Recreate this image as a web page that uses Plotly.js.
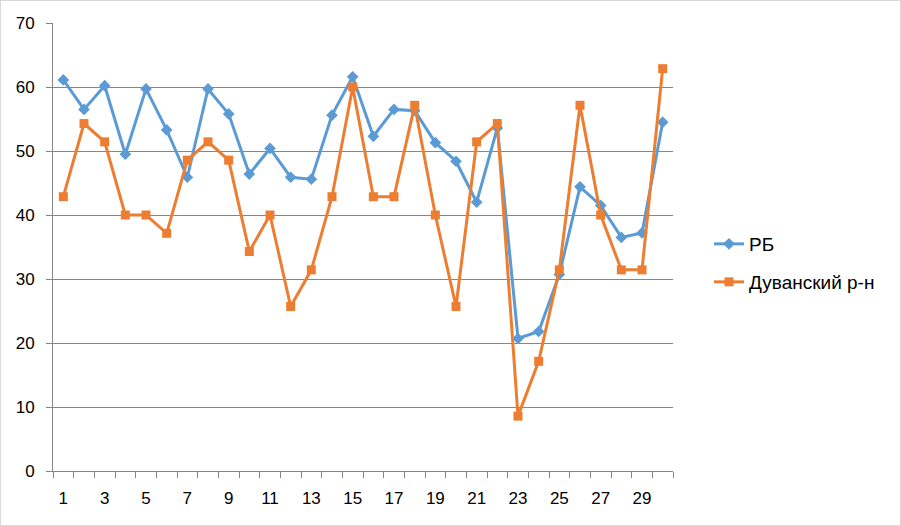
<!DOCTYPE html>
<html><head><meta charset="utf-8">
<script src="https://cdn.plot.ly/plotly-3.0.1.min.js"></script>
<style>html,body{margin:0;padding:0;background:#fff}#chart{width:901px;height:526px;box-sizing:border-box;border:1px solid #d9d9d9}</style>
</head><body><div id="chart"></div>
<script>
const categories = [1,2,3,4,5,6,7,8,9,10,11,12,13,14,15,16,17,18,19,20,21,22,23,24,25,26,27,28,29,30];
const seriesRB = [61.1,56.5,60.2,49.5,59.7,53.3,45.9,59.7,55.8,46.4,50.4,45.9,45.6,55.6,61.6,52.3,56.5,56.3,51.3,48.4,42.0,53.6,20.7,21.8,30.7,44.4,41.5,36.5,37.2,54.5];
const seriesDuvan = [42.86,54.29,51.43,40.0,40.0,37.14,48.57,51.43,48.57,34.29,40.0,25.71,31.43,42.86,60.0,42.86,42.86,57.14,40.0,25.71,51.43,54.29,8.57,17.14,31.43,57.14,40.0,31.43,31.43,62.86];
const xTickLabels = ['1','3','5','7','9','11','13','15','17','19','21','23','25','27','29'];
const yTicks = [0,10,20,30,40,50,60,70];
const names = ['РБ','Дуванский р-н'];

const xTickVals = categories.filter((c,i)=>i%2===0);
const boundaries = [categories[0]-0.5].concat(categories.map(c=>c+0.5));
const font = "Liberation Sans, Arial, sans-serif";
const grid = '#868686';

const traces = [
  {x:categories, y:seriesRB, name:names[0], type:'scatter', mode:'lines+markers',
   line:{color:'#5B9BD5', width:3}, marker:{symbol:'diamond', size:9, color:'#5B9BD5'}, legend:'legend'},
  {x:categories, y:seriesDuvan, name:names[1], type:'scatter', mode:'lines+markers',
   line:{color:'#ED7D31', width:3}, marker:{symbol:'square', size:9, color:'#ED7D31'}, legend:'legend2'}
];

const legendBase = {xref:'container', yref:'container', xanchor:'left', yanchor:'middle',
  font:{family:font, size:19, color:'#000'}, bgcolor:'rgba(0,0,0,0)', itemwidth:30};

const layout = {
  width:899, height:524,
  margin:{l:52, r:227, t:22, b:54},
  paper_bgcolor:'#fff', plot_bgcolor:'#fff',
  font:{family:font, size:17, color:'#000'},
  xaxis:{type:'linear', range:[0.5,30.5], tickvals:xTickVals, ticktext:xTickLabels, ticks:'',
    showgrid:false, zeroline:false, showline:true, linecolor:grid, linewidth:1,
    tickfont:{size:17, family:font, color:'#000'}, ticklabelstandoff:12,
    minor:{tickvals:boundaries, ticks:'outside', ticklen:6, tickcolor:grid, showgrid:false}},
  yaxis:{range:[0,70], tickvals:yTicks, ticks:'outside', ticklen:6, tickcolor:grid,
    showgrid:true, gridcolor:grid, gridwidth:1, zeroline:false, showline:true, linecolor:grid, linewidth:1,
    tickfont:{size:17, family:font, color:'#000'}, ticklabelstandoff:8},
  showlegend:true,
  legend:Object.assign({}, legendBase, {x:708/899, y:1-243/524}),
  legend2:Object.assign({}, legendBase, {x:708/899, y:1-281/524})
};
Plotly.newPlot('chart', traces, layout, {displayModeBar:false, staticPlot:true});
</script></body></html>
